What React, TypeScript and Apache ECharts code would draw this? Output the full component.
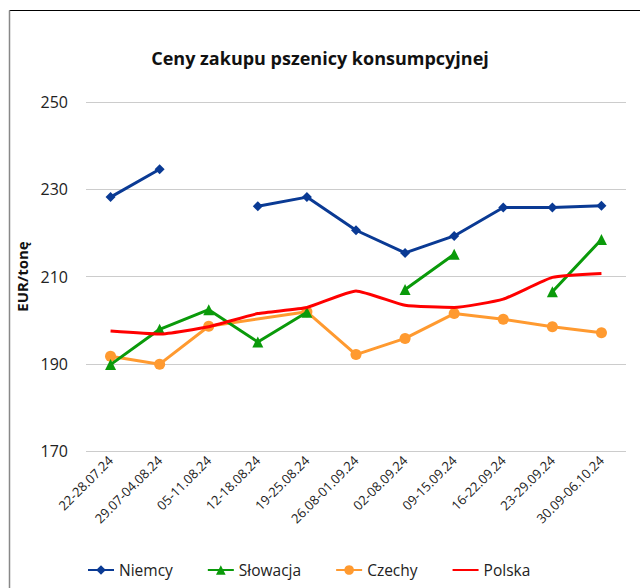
import React, { useEffect, useRef } from "react";
import * as echarts from "echarts";

const categories = [
  "22-28.07.24",
  "29.07-04.08.24",
  "05-11.08.24",
  "12-18.08.24",
  "19-25.08.24",
  "26.08-01.09.24",
  "02-08.09.24",
  "09-15.09.24",
  "16-22.09.24",
  "23-29.09.24",
  "30.09-06.10.24",
];

const niemcy = [228.2, 234.6, null, 226.1, 228.2, 220.6, 215.4, 219.3, 225.8, 225.8, 226.2];
const slowacja = [189.8, 197.9, 202.4, 195.0, 201.8, null, 207.0, 215.1, null, 206.5, 218.5];
const czechy = [191.7, 189.9, 198.6, null, 201.9, 192.1, 195.8, 201.5, 200.2, 198.5, 197.1];
const polska = [197.5, 196.8, 198.5, 201.5, 202.9, 206.7, 203.4, 202.9, 204.8, 209.8, 210.7];

const yTicks = { min: 170, max: 250, interval: 20 };

const FONT = "'Open Sans', 'Noto Sans', sans-serif";

export default function App() {
  const ref = useRef<HTMLDivElement>(null);

  useEffect(() => {
    if (!ref.current) return;
    const chart = echarts.init(ref.current, null, { renderer: "svg" });
    chart.setOption({
      animation: false,
      backgroundColor: "#ffffff",
      textStyle: { fontFamily: FONT },
      title: {
        text: "Ceny zakupu pszenicy konsumpcyjnej",
        left: "center",
        top: 44,
        textStyle: { fontFamily: FONT, fontWeight: "bold", fontSize: 18, color: "#111" },
      },
      graphic: [
        { type: "line", shape: { x1: 9.5, y1: 10.5, x2: 640, y2: 10.5 }, style: { stroke: "#000", lineWidth: 1.2 } },
        { type: "line", shape: { x1: 9.5, y1: 10.5, x2: 9.5, y2: 588 }, style: { stroke: "#888", lineWidth: 1.5 } },
      ],
      grid: { left: 86, right: 14, top: 102, bottom: 137, containLabel: false },
      legend: {
        left: 87,
        top: 562,
        padding: 0,
        itemWidth: 26,
        itemHeight: 12,
        itemGap: 34,
        textStyle: { fontFamily: FONT, fontSize: 15.5, color: "#222" },
        data: [
          { name: "Niemcy" },
          { name: "Słowacja" },
          { name: "Czechy" },
          { name: "Polska", itemStyle: { opacity: 0 } },
        ],
      },
      xAxis: {
        type: "category",
        data: categories,
        boundaryGap: true,
        axisLine: { show: false },
        axisTick: { show: false },
        axisLabel: { rotate: 45, fontSize: 13, color: "#222", margin: 7, interval: 0, fontFamily: FONT },
      },
      yAxis: {
        type: "value",
        min: yTicks.min,
        max: yTicks.max,
        interval: yTicks.interval,
        name: "EUR/tonę",
        nameLocation: "middle",
        nameRotate: 90,
        nameGap: 52,
        nameTextStyle: { fontFamily: FONT, fontWeight: "bold", fontSize: 15, color: "#111" },
        axisLine: { show: false },
        axisTick: { show: false },
        axisLabel: { fontSize: 16, color: "#222", margin: 18, fontFamily: FONT },
        splitLine: { lineStyle: { color: "#cccccc", width: 1.2 } },
      },
      series: [
        {
          name: "Niemcy",
          type: "line",
          data: niemcy,
          connectNulls: false,
          color: "#0a3a94",
          lineStyle: { width: 3, color: "#0a3a94" },
          symbol: "diamond",
          symbolSize: 10,
          itemStyle: { color: "#0a3a94" },
          z: 4,
        },
        {
          name: "Słowacja",
          type: "line",
          data: slowacja,
          connectNulls: false,
          color: "#0a9a0a",
          lineStyle: { width: 3, color: "#0a9a0a" },
          symbol: "triangle",
          symbolSize: 11,
          itemStyle: { color: "#0a9a0a" },
          z: 3,
        },
        {
          name: "Czechy",
          type: "line",
          data: czechy,
          connectNulls: true,
          color: "#ff9a30",
          lineStyle: { width: 3, color: "#ff9a30" },
          symbol: "circle",
          symbolSize: 11,
          itemStyle: { color: "#ff9a30" },
          z: 2,
        },
        {
          name: "Polska",
          type: "line",
          data: polska,
          color: "#ff0000",
          lineStyle: { width: 3, color: "#ff0000" },
          symbol: "none",
          smooth: 0.15,
          itemStyle: { color: "#ff0000" },
          z: 5,
        },
      ],
    });
    return () => chart.dispose();
  }, []);

  return (
    <div
      ref={ref}
      style={{ position: "fixed", left: 0, top: 0, width: 640, height: 588, background: "#fff" }}
    />
  );
}
